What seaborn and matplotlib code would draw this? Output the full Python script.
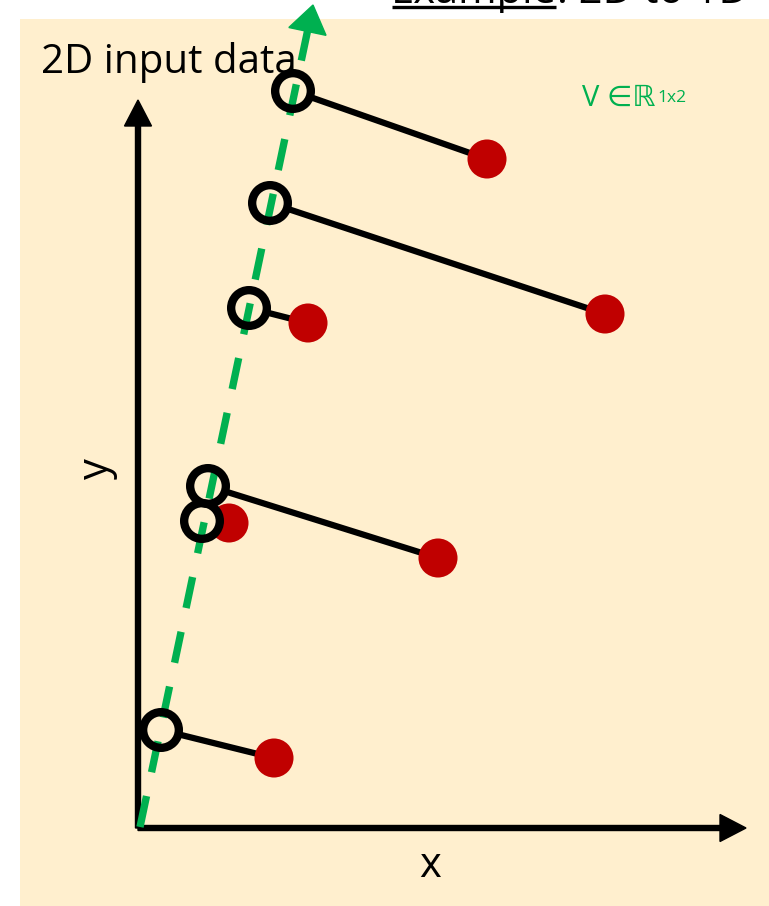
import numpy as np
import matplotlib
matplotlib.use("Agg")
import matplotlib.pyplot as plt
from matplotlib.patches import Rectangle, FancyArrow, Polygon
from matplotlib.collections import LineCollection
import seaborn as sns

# 2D input samples (red) and their projections onto the direction V (open circles)
data_x = [349, 467, 170, 300, 91, 136]
data_y = [669, 514, 505, 270, 305, 70]
proj_x = [155, 132, 111, 70, 64, 23]
proj_y = [737, 625, 520, 342, 307, 98]

# direction vector V: start and tip of the dashed arrow
v_start = (2, 1)
v_tip = (175, 823)

title_main = "Example"
title_rest = ": 2D to 1D"
panel_label = "2D input data"
x_label = "x"
y_label = "y"
v_label = "V \u2208\u211D"
v_sup = "1x2"

BEIGE = "#FFEFCE"
RED = "#C00000"
GREEN = "#00B050"

sns.set_theme(style="white")
plt.rcParams["font.family"] = ["Open Sans", "DejaVu Sans"]

fig = plt.figure(figsize=(7.69, 9.06), dpi=100)
fig.patch.set_facecolor("white")
ax = fig.add_axes([0, 0, 1, 1])
ax.set_xlim(-138, 631)
ax.set_ylim(-78, 828)
ax.axis("off")

# panel background
ax.add_patch(Rectangle((-118, -78), 749, 887, facecolor=BEIGE, edgecolor="none", zorder=0))

# coordinate axes with arrowheads
ax.add_patch(FancyArrow(0, 0, 0, 728, width=5, head_width=27, head_length=26,
                        length_includes_head=True, color="black", zorder=2))
ax.add_patch(FancyArrow(0, 0, 608, 0, width=5, head_width=27, head_length=26,
                        length_includes_head=True, color="black", zorder=2))

# residual segments from each sample to its projection
segs = [[(px, py), (dx, dy)] for px, py, dx, dy in zip(proj_x, proj_y, data_x, data_y)]
ax.add_collection(LineCollection(segs, colors="black", linewidths=4.5, zorder=2.5))

# samples
sns.scatterplot(x=data_x, y=data_y, color=RED, s=790, edgecolor="none", ax=ax, zorder=3)
# projection markers: fill, then the V direction, then the rings
sns.scatterplot(x=proj_x, y=proj_y, color=BEIGE, s=660, edgecolor="none", ax=ax, zorder=4)

d = np.array(v_tip, float) - np.array(v_start, float)
u = d / np.linalg.norm(d)
n = np.array([-u[1], u[0]])
head_len, head_w = 27, 38
base = np.array(v_tip) - head_len * u
ax.plot([v_start[0], base[0]], [v_start[1], base[1]], color=GREEN, lw=5.3,
        linestyle=(0, (4.3, 3.3)), dash_capstyle="butt", zorder=5)
ax.add_patch(Polygon([v_tip, base + n * head_w / 2, base - n * head_w / 2],
                     closed=True, color=GREEN, zorder=5))

sns.scatterplot(x=proj_x, y=proj_y, s=660, facecolor="none", edgecolor="black",
                linewidth=6, ax=ax, zorder=6)

# text
ax.text(-97, 755, panel_label, fontsize=29, ha="left", va="baseline", color="black", zorder=7)

t_main = ax.text(253, 825, title_main, fontsize=30, ha="left", va="baseline",
                 color="black", zorder=7)
t_v = ax.text(444, 722, v_label, fontsize=21, color=GREEN, ha="left", va="baseline", zorder=7)
fig.canvas.draw()
inv = ax.transData.inverted()

bb = t_main.get_window_extent()
x0 = inv.transform((bb.x0, bb.y0))[0]
x1 = inv.transform((bb.x1, bb.y0))[0]
ax.text(x1, 825, title_rest, fontsize=30, ha="left", va="baseline", color="black", zorder=7)
ax.plot([x0 + 1, x1 - 1], [821.5, 821.5], color="black", lw=2.4, zorder=7,
        solid_capstyle="butt")

# superscript of the V label
bv = t_v.get_window_extent()
xv = inv.transform((bv.x1, bv.y0))[0]
ax.text(xv + 2, 726, v_sup, fontsize=12.5, color=GREEN, ha="left", va="baseline", zorder=7)

ax.text(292, -38, x_label, fontsize=30, ha="center", va="center", color="black", zorder=7)
ax.text(-41, 359, y_label, fontsize=30, ha="center", va="center", rotation=90,
        color="black", zorder=7)

fig.savefig("out.png", dpi=100, facecolor="white")
